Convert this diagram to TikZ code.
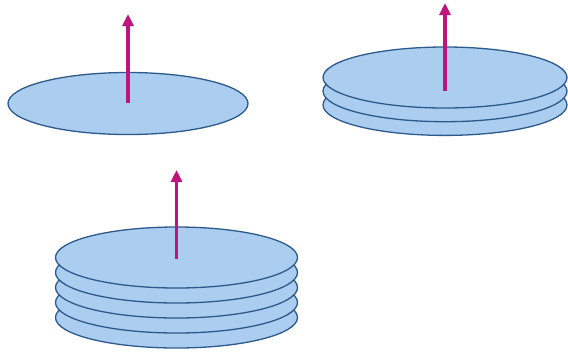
\documentclass[tikz,border=0pt]{standalone}
\usetikzlibrary{arrows.meta}
\definecolor{diskfill}{RGB}{170,205,240}
\definecolor{diskedge}{RGB}{45,90,140}
\definecolor{spin}{RGB}{190,20,125}
\begin{document}
\begin{tikzpicture}[x=1pt, y=-1pt,
  disk/.style={fill=diskfill, draw=diskedge, line width=1.3pt},
  vec/.style={spin, line width=3.4pt, -{Triangle[width=11pt,length=12pt]}}]
  \useasboundingbox (0,0) rectangle (568,354);
  % one disk
  \draw[disk] (128,103.5) ellipse [x radius=120, y radius=31];
  \coordinate (base1) at (128,103);
  \coordinate (tip1) at (128,14);
  \draw[vec] (base1) -- (tip1);
  % three disks
  \foreach \k in {2,1,0}
    \draw[disk] (445,77.5+13.7*\k) ellipse [x radius=122, y radius=30.5];
  \coordinate (base3) at (445,91);
  \coordinate (tip3) at (445,3);
  \draw[vec] (base3) -- (tip3);
  % five disks
  \foreach \k in {4,...,0}
    \draw[disk] (176.5,257.5+15*\k) ellipse [x radius=121, y radius=30.5];
  \coordinate (base5) at (176.5,259);
  \coordinate (tip5) at (176.5,170);
  \draw[vec] (base5) -- (tip5);
\end{tikzpicture}
\end{document}
